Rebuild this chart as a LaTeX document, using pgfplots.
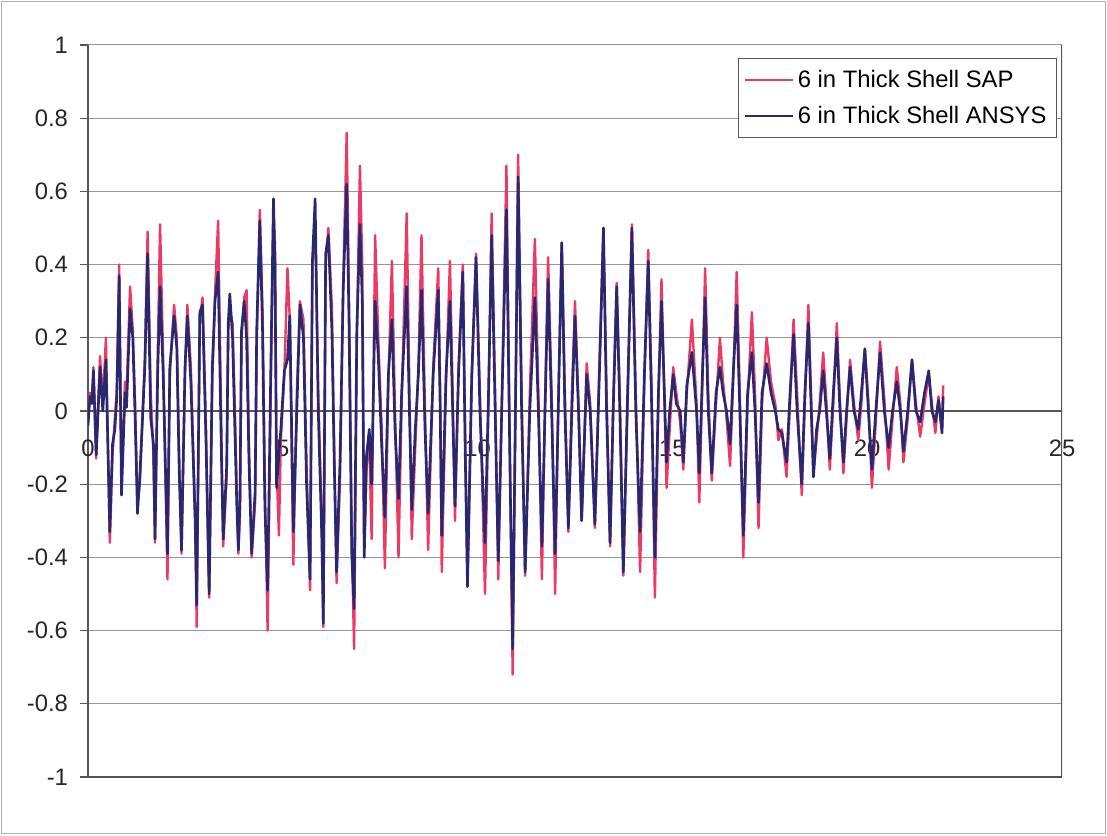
\documentclass[border=0pt]{standalone}
\usepackage{fontspec}
\setmainfont{Liberation Sans}
\usepackage{pgfplots}
\usepackage{pgfplotstable}
\pgfplotsset{compat=1.18}

\definecolor{sapred}{RGB}{236,58,100}
\definecolor{ansysblue}{RGB}{38,40,112}
\definecolor{gridgray}{RGB}{150,150,150}
\definecolor{framegray}{RGB}{85,85,85}

% time history of the response, 6 in thick shell: ANSYS and SAP results
\pgfplotstableread{
t ansys sap
0.00 -0.04 -0.03
0.05 0.04 0.05
0.10 0.02 0.03
0.14 0.11 0.12
0.21 -0.12 -0.13
0.26 0.00 0.02
0.31 0.12 0.15
0.38 0.00 0.02
0.46 0.14 0.20
0.56 -0.33 -0.36
0.63 -0.09 -0.12
0.69 -0.05 -0.02
0.74 0.04 0.06
0.80 0.37 0.40
0.86 -0.23 -0.20
0.95 0.05 0.08
0.99 0.01 0.05
1.08 0.28 0.34
1.15 0.20 0.22
1.21 -0.02 0.02
1.27 -0.28 -0.25
1.33 -0.18 -0.20
1.46 0.12 0.15
1.53 0.43 0.49
1.61 -0.02 0.05
1.68 -0.09 -0.12
1.72 -0.35 -0.36
1.79 0.11 0.15
1.85 0.34 0.51
1.93 0.10 0.14
2.04 -0.39 -0.46
2.10 0.12 0.10
2.21 0.26 0.29
2.28 0.17 0.20
2.34 -0.16 -0.12
2.40 -0.38 -0.39
2.49 0.12 0.10
2.55 0.26 0.29
2.64 0.08 0.12
2.75 -0.30 -0.28
2.79 -0.53 -0.59
2.87 0.27 0.25
2.94 0.29 0.31
3.03 -0.09 -0.05
3.11 -0.50 -0.51
3.19 0.12 0.08
3.26 0.30 0.32
3.34 0.38 0.52
3.43 -0.15 -0.10
3.47 -0.35 -0.37
3.56 -0.15 -0.18
3.60 0.24 0.22
3.64 0.32 0.28
3.71 0.20 0.24
3.76 -0.01 0.05
3.82 -0.26 -0.22
3.86 -0.38 -0.39
3.90 -0.25 -0.28
3.94 0.22 0.20
4.01 0.30 0.31
4.07 0.20 0.33
4.13 -0.13 -0.08
4.20 -0.39 -0.40
4.29 -0.22 -0.25
4.33 0.22 0.18
4.41 0.52 0.55
4.48 0.22 0.28
4.54 -0.26 -0.20
4.61 -0.49 -0.60
4.69 0.10 0.05
4.76 0.58 0.55
4.80 0.40 0.45
4.84 -0.21 -0.15
4.90 -0.12 -0.34
4.95 -0.05 -0.08
5.04 0.11 0.10
5.12 0.14 0.39
5.18 0.26 0.25
5.27 -0.33 -0.42
5.36 0.00 0.05
5.44 0.29 0.30
5.53 0.20 0.25
5.61 -0.20 -0.15
5.70 -0.46 -0.49
5.76 0.41 0.40
5.83 0.58 0.52
5.91 0.00 0.05
6.00 -0.34 -0.30
6.04 -0.58 -0.59
6.10 0.43 0.40
6.17 0.48 0.50
6.26 0.22 0.28
6.32 -0.14 -0.10
6.38 -0.44 -0.47
6.47 -0.13 -0.18
6.55 0.33 0.35
6.64 0.62 0.76
6.70 0.24 0.30
6.77 -0.39 -0.35
6.83 -0.54 -0.65
6.90 0.22 0.20
6.98 0.51 0.67
7.04 0.30 0.40
7.09 -0.40 -0.38
7.15 -0.12 -0.15
7.22 -0.05 -0.08
7.28 -0.20 -0.35
7.37 0.30 0.48
7.45 0.15 0.20
7.54 -0.10 -0.05
7.62 -0.29 -0.43
7.71 0.10 0.08
7.80 0.25 0.41
7.88 -0.05 0.00
7.97 -0.24 -0.40
8.05 0.05 0.02
8.18 0.34 0.54
8.25 0.00 0.05
8.31 -0.27 -0.35
8.40 -0.05 -0.10
8.48 0.10 0.12
8.56 0.33 0.48
8.65 -0.05 0.00
8.73 -0.28 -0.38
8.86 0.10 0.12
8.99 0.33 0.39
9.04 0.00 0.05
9.08 -0.34 -0.44
9.19 0.10 0.08
9.29 0.30 0.41
9.36 0.00 0.05
9.42 -0.26 -0.30
9.51 0.10 0.12
9.62 0.38 0.40
9.68 -0.10 -0.05
9.74 -0.48 -0.47
9.85 0.10 0.08
9.96 0.42 0.43
10.06 0.00 0.05
10.19 -0.36 -0.50
10.28 0.05 0.02
10.36 0.48 0.54
10.45 0.00 0.05
10.53 -0.41 -0.46
10.64 0.10 0.12
10.74 0.55 0.67
10.81 0.00 0.05
10.90 -0.65 -0.72
11.04 0.64 0.70
11.13 0.00 0.05
11.22 -0.44 -0.45
11.34 0.00 0.05
11.47 0.31 0.47
11.56 0.00 0.05
11.65 -0.37 -0.46
11.73 0.00 0.02
11.81 0.36 0.42
11.90 0.00 0.05
11.99 -0.39 -0.50
12.07 0.00 0.02
12.16 0.46 0.46
12.24 0.00 0.05
12.33 -0.32 -0.33
12.42 0.00 0.05
12.50 0.26 0.30
12.59 0.00 0.02
12.67 -0.30 -0.30
12.80 0.10 0.13
12.89 0.00 0.02
13.01 -0.31 -0.32
13.14 0.15 0.18
13.23 0.50 0.50
13.31 0.00 0.05
13.40 -0.36 -0.37
13.48 0.00 0.02
13.57 0.34 0.35
13.65 0.00 0.05
13.74 -0.44 -0.45
13.85 0.05 0.02
13.96 0.50 0.51
14.06 0.00 0.05
14.17 -0.33 -0.44
14.28 0.10 0.08
14.38 0.41 0.44
14.47 0.00 0.05
14.55 -0.40 -0.51
14.64 0.05 0.02
14.72 0.30 0.36
14.85 -0.14 -0.21
14.93 0.00 -0.05
15.02 0.10 0.12
15.10 0.02 0.05
15.20 0.00 -0.03
15.28 -0.14 -0.16
15.37 0.07 0.05
15.50 0.16 0.25
15.62 0.00 0.02
15.69 -0.17 -0.25
15.77 0.10 0.08
15.84 0.31 0.39
15.92 0.00 0.05
16.01 -0.17 -0.19
16.12 0.05 0.02
16.22 0.12 0.20
16.30 0.05 0.08
16.39 0.00 -0.02
16.48 -0.09 -0.15
16.56 0.10 0.08
16.65 0.29 0.38
16.73 0.00 0.05
16.82 -0.34 -0.40
16.93 0.05 0.02
17.04 0.16 0.27
17.12 0.00 0.05
17.21 -0.25 -0.32
17.30 0.05 0.02
17.42 0.13 0.20
17.53 0.05 0.08
17.64 0.00 0.02
17.72 -0.05 -0.08
17.81 -0.06 -0.05
17.93 -0.14 -0.18
18.02 0.05 0.02
18.11 0.21 0.25
18.20 0.00 0.05
18.32 -0.20 -0.23
18.40 0.05 0.02
18.49 0.24 0.29
18.62 -0.18 -0.17
18.70 -0.05 -0.08
18.78 0.00 0.02
18.87 0.11 0.16
18.95 0.00 0.03
19.04 -0.13 -0.16
19.13 0.05 0.02
19.22 0.20 0.24
19.30 0.00 0.03
19.39 -0.14 -0.17
19.47 0.00 -0.02
19.56 0.12 0.14
19.66 0.00 0.02
19.77 -0.05 -0.08
19.85 0.05 0.02
19.94 0.17 0.17
20.03 0.00 0.03
20.12 -0.16 -0.21
20.22 0.00 -0.03
20.33 0.16 0.19
20.44 0.00 0.03
20.55 -0.10 -0.16
20.65 0.00 -0.02
20.76 0.08 0.12
20.85 0.00 0.02
20.93 -0.11 -0.14
21.04 0.00 -0.02
21.15 0.14 0.14
21.25 0.00 0.02
21.36 -0.03 -0.07
21.47 0.05 0.02
21.58 0.11 0.10
21.66 0.00 0.02
21.75 -0.03 -0.06
21.83 0.03 0.04
21.92 -0.06 -0.05
21.95 0.04 0.07
}\shelldata

\begin{document}
\begin{tikzpicture}[x=1pt,y=1pt]
\useasboundingbox (0,0) rectangle (553.5,417.5);
% chart area border
\draw[gray!60, line width=0.6pt] (0.8,0.8) rectangle (552.7,416.7);
\begin{axis}[
  at={(44pt,29pt)}, anchor=south west,
  scale only axis, width=487pt, height=366pt,
  xmin=0, xmax=25, ymin=-1, ymax=1,
  axis x line*=middle, axis y line*=left,
  axis line style={-},
  x axis line style={framegray, line width=0.6pt},
  y axis line style={framegray, line width=0.8pt},
  hide obscured x ticks=false, hide obscured y ticks=false,
  xtick={0,5,10,15,20,25},
  ytick={-1,-0.8,-0.6,-0.4,-0.2,0,0.2,0.4,0.6,0.8,1},
  xtick style={draw=none},
  ytick style={framegray, line width=0.6pt},
  tick align=outside, major tick length=4pt,
  ymajorgrids, major grid style={gridgray, line width=0.5pt},
  /pgf/number format/assume math mode=true,
  /pgf/number format/fixed,
  /pgf/number format/precision=1,
  ticklabel style={font=\fontsize{11.9}{14}\selectfont, text=black!85},
  yticklabel style={xshift=-2.5pt},
  xticklabel style={anchor=north, yshift=-7pt},
  legend style={at={(0.995,0.982)}, anchor=north east,
    draw=framegray, line width=0.6pt, fill=white,
    font=\fontsize{11.9}{14}\selectfont,
    inner xsep=3pt, inner ysep=3.5pt, row sep=4pt,
    cells={anchor=west}},
  legend image code/.code={\draw[#1, line width=0.8pt] (0pt,0pt) -- (24pt,0pt);},
  line join=round,
]
\addplot[sapred, line width=1.2pt] table[x=t, y=sap] {\shelldata};
\addlegendentry{6 in Thick Shell SAP}
\addplot[ansysblue, line width=1.3pt] table[x=t, y=ansys] {\shelldata};
\addlegendentry{6 in Thick Shell ANSYS}
% plot area frame: top, right and bottom edges
\draw[gridgray, line width=0.5pt] (rel axis cs:0,1) -- (rel axis cs:1,1);
\draw[framegray, line width=0.7pt] (rel axis cs:1,1) -- (rel axis cs:1,0) -- (rel axis cs:0,0);
\end{axis}
\end{tikzpicture}
\end{document}
